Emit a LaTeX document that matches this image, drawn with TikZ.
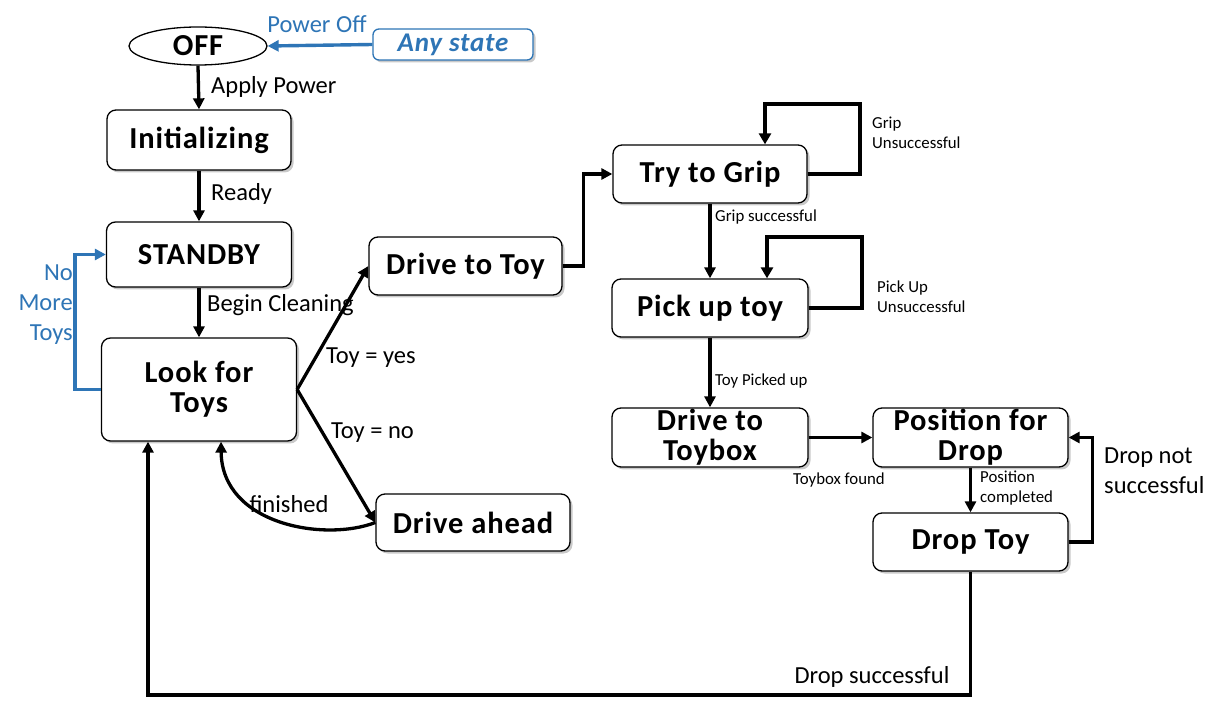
\documentclass[tikz,border=0pt]{standalone}
\usepackage{fontspec}
\setmainfont{Carlito}
\usetikzlibrary{arrows.meta,shadows,shapes.geometric,calc}
\definecolor{myblue}{RGB}{46,117,182}
\newcommand{\nodefont}{\bfseries\fontsize{30.5}{30}\selectfont\addfontfeature{LetterSpace=3}}
\begin{document}
\begin{tikzpicture}[x=1pt,y=-1pt,
  st/.style={draw, line width=1.3pt, rounded corners=9pt, fill=white, inner sep=0pt, align=center,
    font=\nodefont,
    drop shadow={shadow xshift=2.5pt, shadow yshift=-2.5pt, fill=black!35, opacity=0.6}},
  arr/.style={line width=3.3pt, -{Triangle[length=11pt,width=11pt]}},
  loopar/.style={line width=4.3pt, -{Triangle[length=11pt,width=12pt]}},
  barr/.style={myblue, line width=3.4pt, -{Triangle[length=11pt,width=11pt]}},
  lbl/.style={font=\fontsize{24.5}{30}\selectfont, inner sep=0pt},
  sml/.style={font=\fontsize{16.8}{20}\selectfont, inner sep=0pt, align=left},
]
\useasboundingbox (0,0) rectangle (1227,708);
\fill[white] (0,0) rectangle (1227,708);

% states
\node[draw, ellipse, line width=1.3pt, fill=white, minimum width=138pt, minimum height=38pt, inner sep=0pt,
  font=\nodefont] (off) at (198,46) {OFF};
\node[st, draw=myblue, text=myblue, minimum width=160pt, minimum height=31pt, rounded corners=6pt,
  font=\bfseries\itshape\fontsize{27}{30}\selectfont\addfontfeature{LetterSpace=3}] (anys) at (453,44.5) {Any state};
\node[st, minimum width=184pt, minimum height=60pt] (init) at (199,140) {Initializing};
\node[st, minimum width=185pt, minimum height=65pt] (stby) at (199,254.5) {STANDBY};
\node[st, minimum width=195pt, minimum height=103pt] (look) at (199,389.5) {Look for\\Toys};
\node[st, minimum width=193pt, minimum height=58pt] (dtoy) at (465.5,266) {Drive to Toy};
\node[st, minimum width=194pt, minimum height=57pt] (dahead) at (473,522.5) {Drive ahead};
\node[st, minimum width=194pt, minimum height=58pt] (grip) at (710,174) {Try to Grip};
\node[st, minimum width=196pt, minimum height=58pt] (pick) at (710,308) {Pick up toy};
\node[st, minimum width=196pt, minimum height=59pt] (dtb) at (710,437.5) {Drive to\\Toybox};
\node[st, minimum width=195pt, minimum height=59pt] (pos) at (970.5,437.5) {Position for\\Drop};
\node[st, minimum width=195pt, minimum height=58pt] (drop) at (970.5,542) {Drop Toy};

% helper coordinates
\coordinate (g1) at (860,104);
\coordinate (p1) at (862,237);
\coordinate (bl) at (148,695);

% connectors
\draw[barr] (anys.west) -- (off.east);
\draw[arr] (off.south) -- (init.north);
\draw[arr] (init.south) -- (stby.north);
\draw[arr] (stby.south) -- (look.north);
\draw[barr] (look.west) -- ++(-26,0) |- (stby.west);
\draw[arr] (look.east) -- (dtoy.west);
\draw[arr] (look.east) -- (dahead.west);
\draw[arr] (dahead.west) .. controls (325,542) and (222,525) .. ([xshift=22pt]look.south);
\draw[arr] (dtoy.east) -- ++(21,0) |- (grip.west);
\draw[loopar] (grip.east) -| (g1) -| ([xshift=55pt]grip.north);
\draw[arr] (grip.south) -- (pick.north);
\draw[loopar] (pick.east) -| (p1) -| ([xshift=57pt]pick.north);
\draw[arr] (pick.south) -- (dtb.north);
\draw[arr] (dtb.east) -- (pos.west);
\draw[arr] (pos.south) -- (drop.north);
\draw[arr] (drop.east) -- ++(24,0) |- (pos.east);
\draw[arr] (drop.south) |- (bl) -- ([xshift=-51pt]look.south);

% labels
\node[lbl, text=myblue] (lpo) at (317,24) {Power Off};
\node[lbl, anchor=west] (lap) at (211,87) {Apply Power};
\node[lbl, anchor=west] (lrd) at (211,194) {Ready};
\node[lbl, anchor=west] (lbc) at (207,305) {Begin Cleaning};
\node[lbl, text=myblue, align=right, anchor=east] (lnm) at (73,305) {No\\More\\Toys};
\node[lbl, anchor=west] (lty) at (326,358) {Toy = yes};
\node[lbl, anchor=west] (ltn) at (331,433) {Toy = no};
\node[lbl] (lfi) at (289,504) {finished};
\node[sml, anchor=west] (lgu) at (872,133) {Grip\\Unsuccessful};
\node[sml, anchor=west] (lgs) at (715,217) {Grip successful};
\node[sml, anchor=west] (lpu) at (877,297) {Pick Up\\Unsuccessful};
\node[sml, anchor=west] (ltp) at (715,381) {Toy Picked up};
\node[sml] (ltf) at (839,480) {Toybox found};
\node[sml, anchor=west] (lpc) at (980,488) {Position\\completed};
\node[lbl, anchor=west, align=left] (ldn) at (1104,471) {Drop not\\successful};
\node[lbl] (lds) at (872,677) {Drop successful};
\end{tikzpicture}
\end{document}
